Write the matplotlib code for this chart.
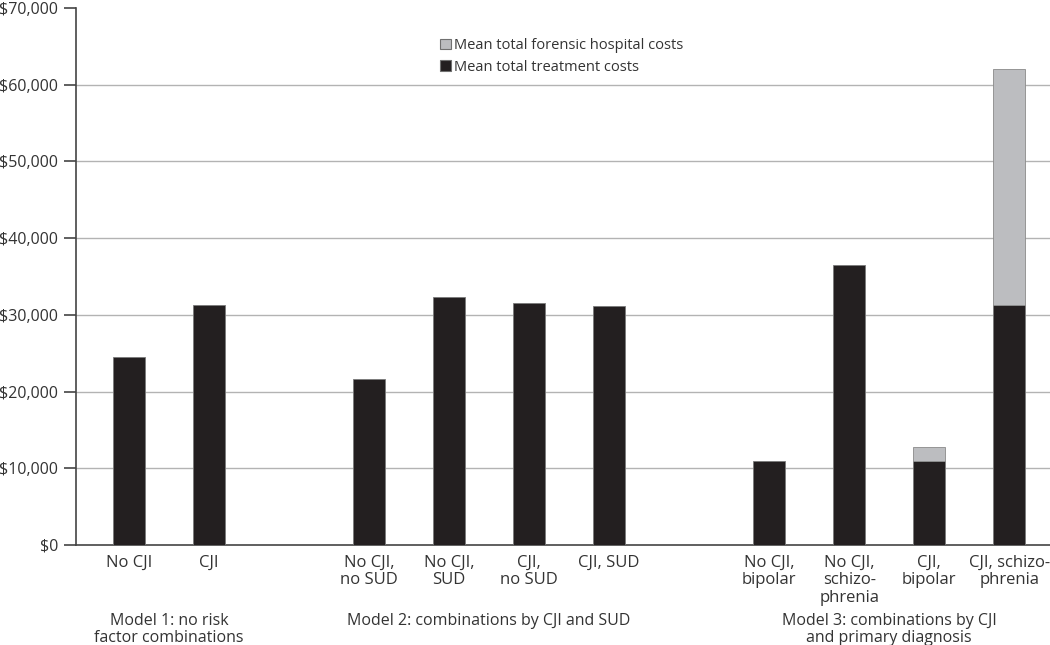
import numpy as np
import matplotlib
matplotlib.use("Agg")
import matplotlib.pyplot as plt
from matplotlib.ticker import FuncFormatter
from matplotlib.patches import Patch

plt.rcParams['font.family'] = ['Open Sans', 'DejaVu Sans']

# data
categories = ["No CJI", "CJI",
              "No CJI,\nno SUD", "No CJI,\nSUD", "CJI,\nno SUD", "CJI, SUD",
              "No CJI,\nbipolar", "No CJI,\nschizo-\nphrenia", "CJI,\nbipolar", "CJI, schizo-\nphrenia"]
slots = [0, 1, 3, 4, 5, 6, 8, 9, 10, 11]
treatment = [24550, 31250, 21600, 32370, 31510, 31160, 10990, 36470, 10990, 31290]
forensic = [0, 0, 0, 0, 0, 0, 0, 0, 1830, 30710]
group_labels = ["Model 1: no risk\nfactor combinations",
                "Model 2: combinations by CJI and SUD",
                "Model 3: combinations by CJI\nand primary diagnosis"]
group_slots = [[0, 1], [3, 6], [8, 11]]

txt = '#333333'
black = '#231f20'
grey = '#bcbdc0'

fig = plt.figure(figsize=(10.5, 6.45), dpi=100)
ax = fig.add_axes([76/1050, 1-545/645, 1-76/1050, 537/645])

x = np.array(slots, dtype=float)
tr = np.array(treatment, dtype=float)
fo = np.array(forensic, dtype=float)
ax.bar(x, tr, width=0.4, color=black, edgecolor='#7a7a7a', linewidth=0.6, zorder=3)
m = fo > 0
ax.bar(x[m], fo[m], bottom=tr[m], width=0.4, color=grey, edgecolor='#8a8a8a', linewidth=0.6, zorder=3)

ax.set_xlim(-0.6625, 11.51)
ax.set_ylim(0, 70000)
ax.set_yticks(np.arange(0, 70001, 10000))
ax.yaxis.set_major_formatter(FuncFormatter(lambda v, p: "${:,.0f}".format(v)))
ax.set_xticks(x)
ax.set_xticklabels(categories, linespacing=1.12)
ax.tick_params(axis='x', length=0, pad=7, labelsize=12, labelcolor=txt)
ax.tick_params(axis='y', length=9, width=1.2, color='#444444', pad=4, labelsize=11.5, labelcolor=txt)

for yv in range(10000, 70000, 10000):
    ax.axhline(yv, color='#b3b3b3', linewidth=1, zorder=1)

for s in ['top', 'right']:
    ax.spines[s].set_visible(False)
ax.spines['left'].set_color('#444444')
ax.spines['left'].set_linewidth(1.2)
ax.spines['bottom'].set_color('#444444')
ax.spines['bottom'].set_linewidth(1.2)

for lab, (a, b) in zip(group_labels, group_slots):
    ax.text((a+b)/2, -0.126, lab, transform=ax.get_xaxis_transform(), ha='center', va='top',
            fontsize=11.5, color=txt, linespacing=1.12)

handles = [Patch(facecolor=grey, edgecolor='#707070', linewidth=0.8),
           Patch(facecolor=black, edgecolor='#707070', linewidth=0.8)]
ax.legend(handles, ["Mean total forensic hospital costs", "Mean total treatment costs"],
          loc='upper left', bbox_to_anchor=(0.374, 0.944), frameon=False, fontsize=10.5,
          labelcolor=txt, handlelength=0.75, handleheight=0.75, handletextpad=0.2,
          borderpad=0, borderaxespad=0, labelspacing=0.45)

fig.savefig("out.png", dpi=100)
